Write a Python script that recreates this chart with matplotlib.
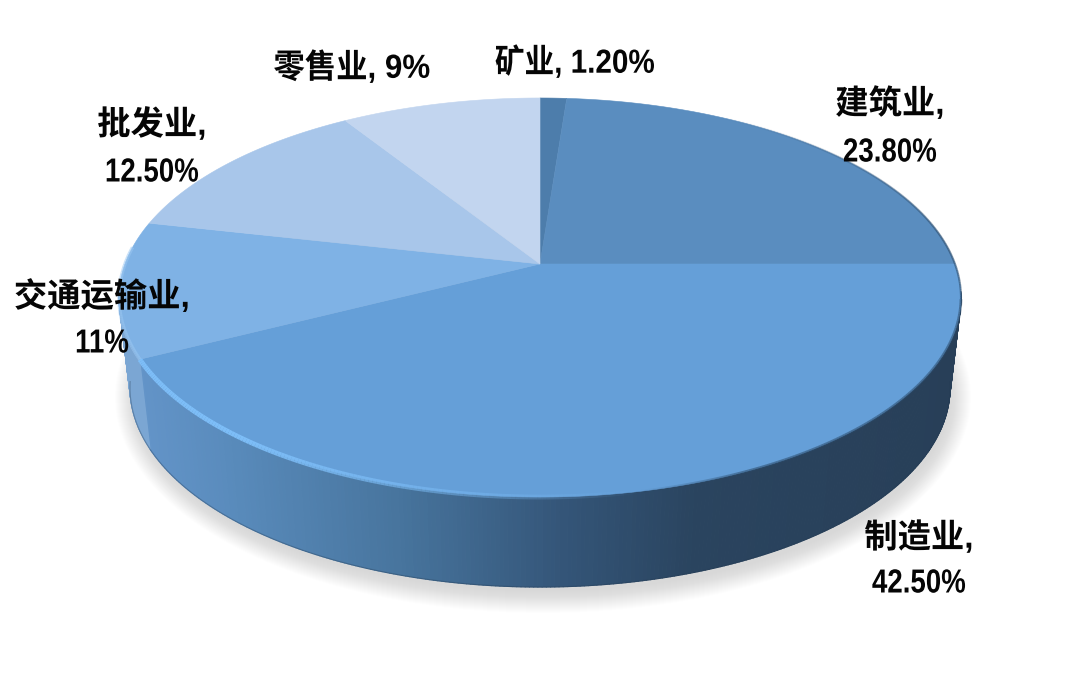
import numpy as np
import matplotlib
matplotlib.use("Agg")
import matplotlib.pyplot as plt
from matplotlib.collections import PolyCollection, LineCollection
from matplotlib.colors import LinearSegmentedColormap, to_rgba
from matplotlib.patheffects import AbstractPathEffect
from matplotlib.transforms import Affine2D

# ---- data ----
categories = ["矿业", "建筑业", "制造业", "交通运输业", "批发业", "零售业"]
values = [1.2, 23.8, 42.5, 11.0, 12.5, 9.0]
value_labels = ["1.20%", "23.80%", "42.50%", "11%", "12.50%", "9%"]
slice_colors = ["#4d7dab", "#5a8dbf", "#659fd8", "#7fb2e5", "#a8c6ea", "#c2d5ef"]
# single-line labels: (x, y, squeeze); two-line labels: (x, y of first line, y of second line)
label_places = [(575, 63, 0.89), (890, 104, 153, None), (919, 538, 584, None),
                (102, 297, 344, None), (152, 125, 173, None), (352, 68, 0.94)]

# ---- projection of the tilted disc (perspective) ----
CX, CY, A, B, K = 540.0, 264.0, 415.0, 193.9, 0.168
RIM_CY, RIM_RX, RIM_RY = 298.0, 423.0, 200.0
BASE_CY, BASE_RX, BASE_RY = 388.0, 412.0, 200.0
FAMILY = ["Liberation Sans", "Noto Sans CJK SC", "DejaVu Sans"]


def project(theta):
    u, v = np.sin(theta), np.cos(theta)
    d = 1 + K * v
    return CX + A * u / d, CY - B * v / d


def base_of(x, y):
    return CX + BASE_RX * (x - CX) / RIM_RX, BASE_CY + BASE_RY * (y - RIM_CY) / RIM_RY


class Condense(AbstractPathEffect):
    """Narrow the glyphs horizontally about the text centre."""

    def __init__(self, sx, pivot):
        super().__init__()
        self.sx, self.pivot = sx, pivot

    def draw_path(self, renderer, gc, tpath, affine, rgbFace=None):
        squeeze = Affine2D().translate(-self.pivot, 0).scale(self.sx, 1).translate(self.pivot, 0)
        renderer.draw_path(gc, tpath, affine + squeeze, rgbFace)


fig = plt.figure(figsize=(10.8, 6.93), dpi=100, facecolor="white")
ax = fig.add_axes([0, 0, 1, 1])
ax.set_xlim(0, 1080)
ax.set_ylim(693, 0)
ax.axis("off")

edges = 2 * np.pi * np.concatenate([[0], np.cumsum(values)]) / np.sum(values)

# soft shadow
t = np.linspace(0, 2 * np.pi, 360)
for r in np.linspace(22, 0, 23):
    ax.fill(CX + 3 + (BASE_RX + r - 6) * np.cos(t), BASE_CY + 9 + (BASE_RY + r - 6) * np.sin(t),
            color="#8a8a8a", alpha=0.012, lw=0, zorder=1)

# side wall
wall_cmap = LinearSegmentedColormap.from_list("wall", [
    (0.00, "#6394c8"), (0.10, "#5a8cbd"), (0.32, "#47749d"),
    (0.52, "#345578"), (0.68, "#2a445f"), (1.00, "#283f58")])
th = np.radians(np.linspace(98, 262, 330))
xr, yr = project(th)
xb, yb = base_of(xr, yr)
polys, cols = [], []
for i in range(len(th) - 1):
    polys.append([(xr[i], yr[i]), (xr[i + 1], yr[i + 1]), (xb[i + 1], yb[i + 1]), (xb[i], yb[i])])
    mid = 0.5 * (th[i] + th[i + 1])
    if mid > edges[3]:
        cols.append(to_rgba("#7ba6d3"))
    else:
        cols.append(wall_cmap((135 - 0.5 * (xr[i] + xr[i + 1])) / (135 - 960)))
ax.add_collection(PolyCollection(polys, facecolors=cols, edgecolors=cols, linewidths=0.8, zorder=2))
ax.plot(xb, yb, color="#233a52", lw=0.8, alpha=0.35, zorder=2.1)

# top face
for i, c in enumerate(slice_colors):
    a = np.linspace(edges[i], edges[i + 1], 200)
    x, y = project(a)
    ax.fill(np.r_[CX, x], np.r_[CY, y], facecolor=c, edgecolor=c, lw=0.4, zorder=3)

# rim lighting: bright on the lit side, soft and dark on the shaded side
seg_t = np.radians(np.linspace(30, 275, 490))
sx, sy = project(seg_t)
pts = np.column_stack([sx, sy])
segs = np.stack([pts[:-1], pts[1:]], axis=1)
mids = 0.5 * (seg_t[:-1] + seg_t[1:])
bright = to_rgba("#7fc0fa")
dark = to_rgba("#2b4a69")
seg_cols, seg_w = [], []
for m, xm in zip(mids, 0.5 * (sx[:-1] + sx[1:])):
    if m > edges[3]:
        seg_cols.append((*to_rgba("#9cc8f2")[:3], 0.55)); seg_w.append(2.5)
    elif xm < 640:
        seg_cols.append((*bright[:3], float(np.clip((640 - xm) / 420, 0.0, 0.95)))); seg_w.append(3.5)
    elif m < np.radians(100):
        seg_cols.append((*dark[:3], float(0.6 * np.clip((m - np.radians(30)) / np.radians(50), 0, 1)))); seg_w.append(1.5)
    else:
        seg_cols.append((*dark[:3], float(np.clip((xm - 640) / 200, 0.0, 0.55)))); seg_w.append(2.0)
ax.add_collection(LineCollection(segs, colors=seg_cols, linewidths=seg_w, zorder=4))


def put(x, y, s, squeeze):
    px = ax.transData.transform((x, y))[0]
    ax.text(x, y, s, ha="center", va="center", fontsize=24, fontweight="bold", family=FAMILY,
            color="#050505", zorder=6, path_effects=[Condense(squeeze, px)])


# labels
for name, val, place in zip(categories, value_labels, label_places):
    if place[2] is not None and place[2] < 2:
        put(place[0], place[1], f"{name}, {val}", place[2])
    else:
        put(place[0], place[1], f"{name},", 1.0)
        put(place[0], place[2], val, 0.83)

fig.savefig("out.png", dpi=100, facecolor="white")
